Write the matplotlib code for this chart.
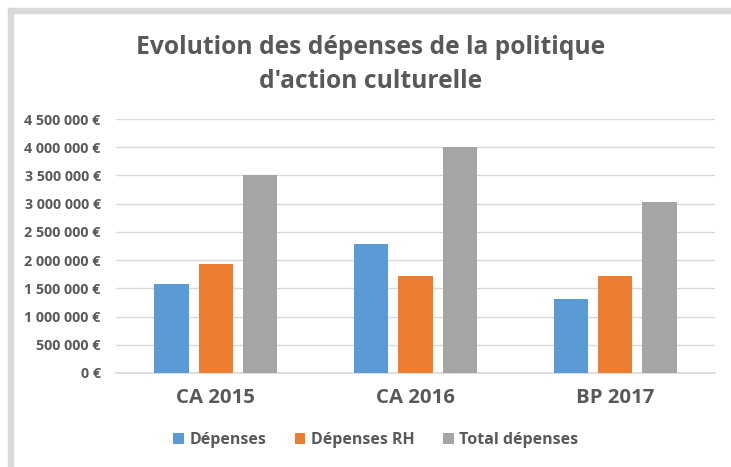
import numpy as np
import matplotlib
matplotlib.use("Agg")
import matplotlib.pyplot as plt
from matplotlib.patches import Rectangle
from matplotlib.ticker import FuncFormatter

# data
categories = ["CA 2015", "CA 2016", "BP 2017"]
depenses = [1575000, 2277000, 1310000]
depenses_rh = [1935000, 1711000, 1711000]
total_depenses = [3510000, 4000000, 3032000]
series_names = ["Dépenses", "Dépenses RH", "Total dépenses"]
colors = ["#5b9bd5", "#ed7d31", "#a5a5a5"]

txt = "#595959"
plt.rcParams['font.family'] = ['Open Sans', 'DejaVu Sans']

fig = plt.figure(figsize=(7.31, 4.67), dpi=100)
ax = fig.add_axes([116/731, 1-373/467, (715-116)/731, (373-119)/467])

x = np.arange(len(categories))
w = 0.173
step = 0.222
for i, (vals, name, c) in enumerate(zip([depenses, depenses_rh, total_depenses], series_names, colors)):
    ax.bar(x + (i-1)*step, vals, width=w, color=c, label=name, zorder=3)

ax.set_xlim(-0.5, 2.5)
ax.set_ylim(0, 4500000)
ax.set_yticks(np.arange(0, 4500001, 500000))

def euro(v, pos):
    return "{:,.0f} €".format(v).replace(",", " ")
ax.yaxis.set_major_formatter(FuncFormatter(euro))
ax.grid(axis='y', color='#d9d9d9', linewidth=1.0, zorder=0)
for s in ['top', 'right', 'left']:
    ax.spines[s].set_visible(False)
ax.spines['bottom'].set_color('#d9d9d9')
ax.spines['bottom'].set_linewidth(1.2)
ax.tick_params(axis='both', length=0)
ax.tick_params(axis='y', labelsize=10.3, labelcolor=txt, pad=11)
ax.tick_params(axis='x', labelsize=14.7, labelcolor=txt, pad=11)
for lab in ax.get_yticklabels() + ax.get_xticklabels():
    lab.set_fontweight('bold')
ax.set_xticks(x)
ax.set_xticklabels(categories)

fig.text(371/731, 1-47/467, "Evolution des dépenses de la politique", ha='center', va='center',
         fontsize=17.7, fontweight='bold', color=txt)
fig.text(371/731, 1-82/467, "d'action culturelle", ha='center', va='center',
         fontsize=17.7, fontweight='bold', color=txt)

leg = fig.legend(loc='center', bbox_to_anchor=(376/731, 1-440/467), ncol=3, frameon=False,
                 prop={'weight': 'bold', 'size': 11.5}, handlelength=0.65, handleheight=0.65,
                 columnspacing=1.8, handletextpad=0.35)
for t in leg.get_texts():
    t.set_color(txt)

# chart frame border (top and left visible)
fig.patches.append(Rectangle((8/731, 0), 5/731, 1-8/467, transform=fig.transFigure,
                             color='#d9d9d9', zorder=0))
fig.patches.append(Rectangle((8/731, 1-13/467), 1, 5/467, transform=fig.transFigure,
                             color='#d9d9d9', zorder=0))

fig.savefig("out.png", dpi=100)
